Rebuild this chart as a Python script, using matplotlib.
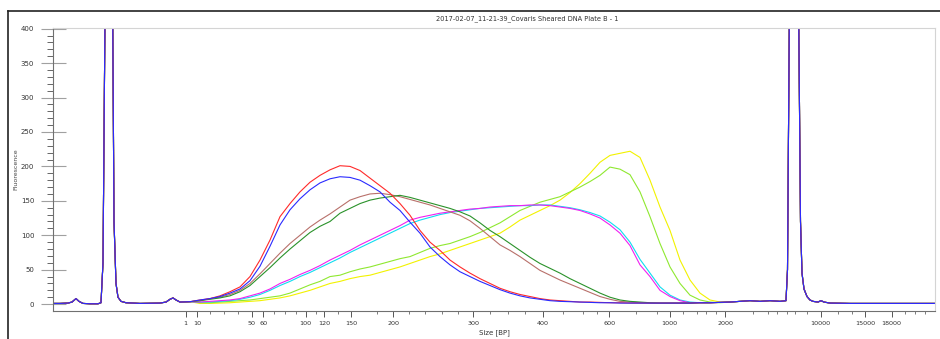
import numpy as np
import matplotlib
matplotlib.use('Agg')
import matplotlib.pyplot as plt
from matplotlib.lines import Line2D

# migration position (instrument scan units) shared by every lane
left_pos = [53, 60, 68, 72, 76, 79, 83, 90, 98, 101, 103, 105, 107.5, 110, 112.7,
            114, 116, 118, 121, 126, 140, 160, 166, 170, 173, 176, 180, 190]
left_val = [1, 1, 1.5, 3, 8, 4, 1, 0.5, 0.5, 2, 60, 420, 1200, 1200, 420,
            120, 30, 10, 4, 2, 1, 1.5, 3, 7, 9, 6, 3, 3.5]

right_pos = [750, 760, 770, 780, 786, 787.5, 789.5, 792, 795, 798.5, 800.5, 802,
             804, 807, 810, 813, 818, 821, 824, 830, 850, 880, 935]
right_val = [5, 4, 5, 4, 5, 50, 450, 1200, 1200, 450, 120, 45,
             22, 11, 6, 4, 3, 5, 3, 1.5, 1, 1, 1]

mid_pos = np.arange(200, 741, 10)

red = [6, 8, 12, 18, 25, 40, 64, 93, 127, 146, 163, 177, 187, 195, 201, 200, 194, 183,
       172, 161, 146, 129, 107, 90, 78, 64, 54, 45, 37, 30, 23, 18, 14, 11, 8, 6, 5, 4,
       3, 3, 2.5, 2, 2, 1.5, 1.5, 1.5, 1.5, 1.5, 1.5, 1.5, 2, 2, 2.5, 3, 4]
blue = [6, 8, 11, 16, 22, 34, 55, 84, 115, 137, 153, 166, 176, 182, 185, 184, 180, 172,
        163, 148, 136, 119, 103, 83, 69, 57, 47, 40, 33, 27, 21, 16, 12, 9, 7, 5, 4, 3.5,
        3, 2.5, 2, 2, 1.5, 1.5, 1.5, 1.5, 1.5, 1.5, 1.5, 1.5, 2, 2, 2.5, 3, 4]
brown = [5, 8, 10, 14, 20, 30, 44, 59, 74, 88, 100, 112, 122, 131, 141, 151, 156, 160,
         161, 159, 156, 152, 148, 144, 139, 134, 129, 121, 110, 98, 86, 78, 69, 59, 49,
         42, 35, 29, 23, 17, 11, 7, 4, 3, 2, 1.5, 1.5, 1.5, 1.5, 1.5, 2, 2, 2.5, 3, 4]
green = [5, 7, 9, 12, 18, 27, 40, 53, 67, 80, 92, 104, 113, 120, 132, 139, 146, 151,
         154, 156, 158, 155, 151, 147, 143, 139, 134, 128, 118, 107, 98, 88, 78, 68, 59,
         52, 45, 37, 30, 23, 16, 10, 6, 4, 3, 2, 1.5, 1.5, 1.5, 1.5, 2, 2, 2.5, 3, 4]
magenta = [3, 4, 5, 6, 8, 12, 16, 22, 30, 36, 43, 49, 56, 64, 71, 78, 86, 93, 100, 107,
           114, 122, 126, 129, 132, 134, 136, 138, 139, 141, 142, 143, 143, 144, 144, 143,
           141, 139, 136, 131, 125, 115, 103, 85, 57, 40, 20, 11, 5, 2, 2, 2, 2.5, 3, 4]
cyan = [3, 3, 4, 5, 7, 10, 14, 20, 27, 33, 40, 46, 53, 60, 67, 75, 82, 89, 96, 103, 110,
        117, 122, 126, 130, 133, 135, 137, 139, 140, 141, 142, 143, 143, 144, 144, 142,
        140, 137, 133, 128, 119, 108, 90, 65, 45, 25, 13, 6, 3, 2, 2, 2.5, 3, 4]
lime = [2, 2, 3, 4, 5, 6, 8, 10, 12, 16, 22, 28, 33, 40, 42, 47, 51, 54, 58, 62, 66, 69,
        75, 81, 85, 88, 93, 98, 104, 111, 118, 127, 136, 142, 148, 152, 156, 163, 170, 178,
        187, 199, 196, 188, 163, 127, 88, 54, 30, 13, 6, 3, 2, 3, 4]
yellow = [1, 1, 1.5, 2, 3, 4, 5, 7, 9, 12, 16, 20, 25, 30, 33, 37, 40, 42, 46, 50, 54, 59,
          64, 69, 73, 78, 83, 88, 93, 98, 103, 112, 122, 129, 136, 143, 151, 162, 175, 190,
          206, 216, 219, 222, 213, 180, 141, 107, 64, 35, 16, 6, 3, 3, 4]

lanes = [(yellow, '#f2f200'), (lime, '#8fe830'), (cyan, '#10dcf0'), (magenta, '#f020f0'),
         (brown, '#b8706a'), (green, '#2a922a'), (red, '#ff2a2a'), (blue, '#2a2aff')]

size_labels = ['1', '10', '50', '60', '100', '120', '150', '200', '300', '400', '600',
               '1000', '2000', '10000', '15000', '18000']
size_pos = [185.7, 197.3, 251.7, 263.3, 305.7, 324, 351.3, 393.3, 473.3, 542.7, 609.3,
            669.7, 725.3, 820.7, 865, 891.7]
minor_pos = [210, 224, 238, 274, 285, 296, 316, 338, 377, 409, 425, 442, 458, 490, 508,
             525, 563, 583, 597, 636, 657, 683, 697, 706, 716, 753, 768, 777, 787, 795,
             807, 838, 852, 905, 915, 925]

fig = plt.figure(figsize=(9.4, 3.39), dpi=100)
ax = fig.add_axes([53 / 940, 28 / 339, 882 / 940, 283 / 339])

for vals, col in lanes:
    x = np.concatenate([left_pos, mid_pos, right_pos])
    y = np.concatenate([left_val, vals, right_val])
    ax.plot(x, y, color=col, lw=0.8)

ax.set_xlim(53, 935)
ax.set_ylim(-10, 401)

ax.set_yticks(np.arange(0, 401, 50))
ax.set_yticks([v for v in range(0, 401, 10) if v % 50], minor=True)
ax.tick_params(axis='y', which='major', direction='inout', length=18, width=0.8,
               color='#a0a0a0', labelsize=5, labelcolor='#333333', pad=4.5)
ax.tick_params(axis='y', which='minor', direction='out', length=4.5, width=0.7,
               color='#666666')

ax.set_xticks(size_pos)
ax.set_xticklabels(size_labels)
ax.set_xticks(minor_pos, minor=True)
ax.tick_params(axis='x', which='major', direction='out', length=4.3, width=0.7,
               color='#555555', labelsize=4.6, labelcolor='#333333', pad=3)
ax.tick_params(axis='x', which='minor', direction='out', length=2.2, width=0.6,
               color='#666666')

for s in ['left', 'bottom']:
    ax.spines[s].set_color('#707070')
    ax.spines[s].set_linewidth(0.8)
for s in ['top', 'right']:
    ax.spines[s].set_color('#d4d4d4')
    ax.spines[s].set_linewidth(0.8)

# window frame around the plot
fig.add_artist(Line2D([8 / 940, 1], [1 - 11 / 339, 1 - 11 / 339], transform=fig.transFigure,
                      color='#222222', lw=1.2))
fig.add_artist(Line2D([8 / 940, 8 / 940], [0, 1 - 11 / 339], transform=fig.transFigure,
                      color='#222222', lw=1.2))

fig.text(527 / 940, 1 - 18.5 / 339, '2017-02-07_11-21-39_Covaris Sheared DNA Plate B - 1',
         ha='center', va='center', fontsize=4.8, color='#333333')
fig.text(16 / 940, 1 - 169.5 / 339, 'Fluorescence', rotation=90, ha='center', va='center',
         fontsize=4.5, color='#444444')
fig.text(494 / 940, 1 - 333 / 339, 'Size [BP]', ha='center', va='center', fontsize=5,
         color='#333333')

fig.savefig('out.png', dpi=100)
